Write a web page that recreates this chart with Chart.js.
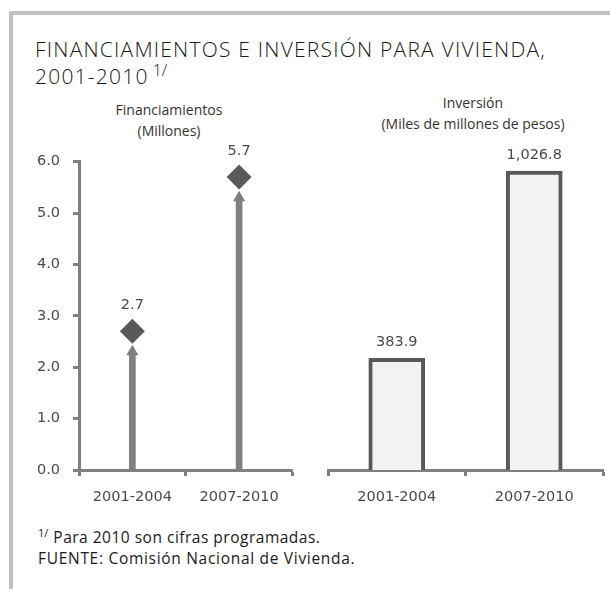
<!DOCTYPE html>
<html><head><meta charset="utf-8">
<script src="https://cdn.jsdelivr.net/npm/chart.js@4.4.1/dist/chart.umd.min.js"></script>
<style>
html,body{margin:0;padding:0;background:#fff;}
body{width:610px;height:589px;position:relative;overflow:hidden;font-family:"Open Sans",sans-serif;color:#262626;}
.frameTop{position:absolute;left:9px;top:11px;width:601px;height:4px;background:#c0c0c0;}
.frameLeft{position:absolute;left:9px;top:11px;width:4px;height:578px;background:#c0c0c0;}
.title{position:absolute;left:35px;top:36px;font-size:21px;font-weight:300;letter-spacing:1.22px;line-height:27px;white-space:nowrap;color:#1a1a1a;}
.title sup{font-size:16px;position:relative;top:-6px;vertical-align:top;margin-left:4px;letter-spacing:0;}
.sub{position:absolute;width:300px;text-align:center;font-size:14px;line-height:20.5px;color:#333;white-space:nowrap;}
.foot{position:absolute;left:38px;font-size:15.5px;line-height:20px;white-space:nowrap;color:#1a1a1a;}
.foot sup{font-size:11px;vertical-align:top;position:relative;top:-4px;margin-right:5px;letter-spacing:0;}
canvas{position:absolute;}
</style>
</head><body>
<div class="frameTop"></div><div class="frameLeft"></div>
<div class="title">FINANCIAMIENTOS E INVERSIÓN PARA VIVIENDA,<br>2001-2010<sup>1/</sup></div>
<div class="sub" style="left:19px;top:100px;">Financiamientos<br>(Millones)</div>
<div class="sub" style="left:323px;top:93px;">Inversión<br>(Miles de millones de pesos)</div>
<div class="foot" style="top:527px;letter-spacing:0.5px;"><sup>1/</sup>Para 2010 son cifras programadas.</div>
<div class="foot" style="top:548px;letter-spacing:0.7px;">FUENTE: Comisión Nacional de Vivienda.</div>
<canvas id="c1" width="305" height="380" style="left:0;top:140px;"></canvas>
<canvas id="c2" width="305" height="380" style="left:305px;top:140px;"></canvas>
<script>
const categories = ['2001-2004', '2007-2010'];
const financiamientos = [2.7, 5.7];      // millones
const arrowHeads = [2.3, 5.3];           // top of the decorative arrows
const inversion = [383.9, 1026.8];       // miles de millones de pesos
const yTicks = [0, 1, 2, 3, 4, 5, 6];

const FONT = 'DejaVu Sans';
const AXIS = '#808080';
const TEXT = '#4a4a4a';

const valueLabels = {
  id: 'valueLabels',
  afterDatasetsDraw(chart, args, opts) {
    const ds = chart.data.datasets[opts.datasetIndex];
    const meta = chart.getDatasetMeta(opts.datasetIndex);
    const ctx = chart.ctx;
    ctx.save();
    ctx.font = '14.5px "' + FONT + '"';
    ctx.fillStyle = TEXT;
    ctx.textAlign = 'center';
    ctx.textBaseline = 'middle';
    meta.data.forEach((el, i) => {
      const v = ds.data[i];
      const txt = v.toLocaleString('en-US', {minimumFractionDigits: 1, maximumFractionDigits: 1});
      ctx.fillText(txt, el.x, el.y - opts.offset);
    });
    ctx.restore();
  }
};

const xAxis = {
  offset: true,
  grid: {offset: true, drawOnChartArea: false, drawTicks: true, tickLength: 6, tickWidth: 3, tickColor: AXIS},
  border: {color: AXIS, width: 3},
  ticks: {font: {family: FONT, size: 14.5}, color: TEXT, padding: 13},
  afterFit(s) { s.height = 50; }
};

new Chart(document.getElementById('c1'), {
  type: 'bar',
  data: {
    labels: categories,
    datasets: [
      {type: 'bar', data: arrowHeads, backgroundColor: AXIS, barThickness: 6, order: 3},
      {type: 'line', data: arrowHeads, showLine: false, pointStyle: 'triangle', pointRadius: 7,
       pointBackgroundColor: AXIS, pointBorderWidth: 0, order: 2},
      {type: 'line', data: financiamientos, showLine: false, pointStyle: 'rectRot', pointRadius: 12.5,
       pointBackgroundColor: '#595959', pointBorderWidth: 0, order: 1}
    ]
  },
  options: {
    responsive: false, animation: false, events: [],
    layout: {padding: {top: 20, right: 12, left: 0, bottom: 0}},
    plugins: {legend: {display: false}, tooltip: {enabled: false}, valueLabels: {datasetIndex: 2, offset: 26}},
    scales: {
      x: xAxis,
      y: {
        min: 0, max: 6,
        afterBuildTicks(s) { s.ticks = yTicks.map(v => ({value: v})); },
        grid: {drawOnChartArea: false, drawTicks: true, tickLength: 6, tickWidth: 3, tickColor: AXIS},
        border: {color: AXIS, width: 3},
        ticks: {callback: v => Number(v).toFixed(1), font: {family: FONT, size: 14.5}, color: TEXT, padding: 13},
        afterFit(s) { s.width = 79; }
      }
    }
  },
  plugins: [valueLabels]
});

new Chart(document.getElementById('c2'), {
  type: 'bar',
  data: {
    labels: categories,
    datasets: [
      {data: inversion, backgroundColor: '#f2f2f2', borderColor: '#595959', borderWidth: 4, barThickness: 56}
    ]
  },
  options: {
    responsive: false, animation: false, events: [],
    layout: {padding: {top: 20, right: 7, left: 23, bottom: 0}},
    plugins: {legend: {display: false}, tooltip: {enabled: false}, valueLabels: {datasetIndex: 0, offset: 16}},
    scales: {
      x: xAxis,
      y: {display: false, min: 0, max: 1065}
    }
  },
  plugins: [valueLabels]
});
</script>
</body></html>
